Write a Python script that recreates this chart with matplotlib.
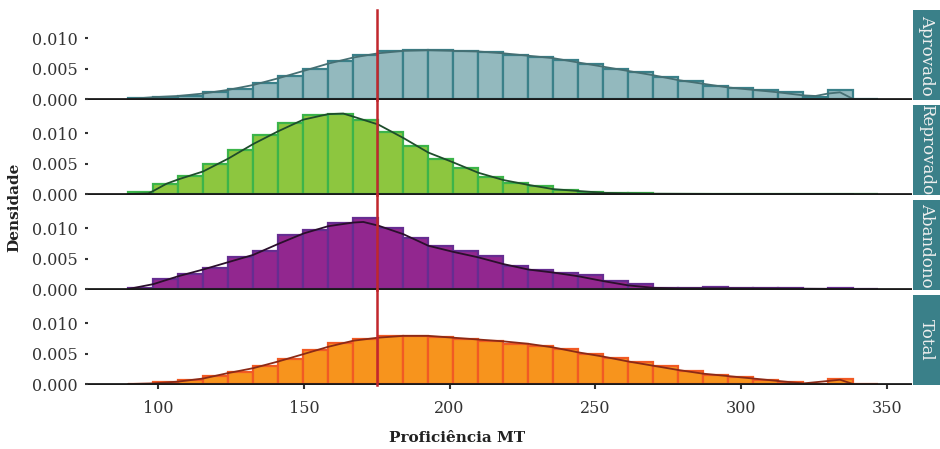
import numpy as np
import matplotlib
matplotlib.use("Agg")
import matplotlib.pyplot as plt

plt.rcParams["font.family"] = ["DejaVu Serif"]

# histogram bins (30 bins, same for every panel)
BIN_START = 89.7
BIN_WIDTH = 8.58
N_BINS = 30

GROUPS = ["Aprovado", "Reprovado", "Abandono", "Total"]

APROVADO_DENS = [0.0002, 0.0004, 0.0005, 0.0011, 0.0017, 0.0026, 0.0038, 0.0050, 0.0063, 0.0073,
                 0.0079, 0.0080, 0.0080, 0.0079, 0.0077, 0.0073, 0.0069, 0.0064, 0.0057, 0.0050,
                 0.0044, 0.0036, 0.0030, 0.0021, 0.0018, 0.0014, 0.0011, 0.0003, 0.0015, 0.0]
REPROVADO_DENS = [0.0004, 0.0016, 0.0029, 0.0050, 0.0072, 0.0097, 0.0117, 0.0129, 0.0132, 0.0121,
                  0.0101, 0.0079, 0.0058, 0.0042, 0.0028, 0.0018, 0.0013, 0.0006, 0.0003, 0.0002,
                  0.0001, 0.00005, 0.00004, 0.00003, 0.00003, 0.00002, 0.00002, 0.00001, 0.00001, 0.0]
ABANDONO_DENS = [0.0002, 0.0017, 0.0024, 0.0035, 0.0053, 0.0063, 0.0089, 0.0097, 0.0109, 0.0116,
                 0.0100, 0.0083, 0.0070, 0.0063, 0.0054, 0.0038, 0.0032, 0.0026, 0.0023, 0.0013,
                 0.0008, 0.0002, 0.0001, 0.0004, 0.0001, 0.0001, 0.0001, 0.0, 0.0002, 0.0]
TOTAL_DENS = [0.00005, 0.0004, 0.0007, 0.0013, 0.0020, 0.0030, 0.0041, 0.0055, 0.0067, 0.0074,
              0.0079, 0.0079, 0.0077, 0.0074, 0.0071, 0.0066, 0.0063, 0.0057, 0.0049, 0.0043,
              0.0036, 0.0030, 0.0022, 0.0015, 0.0012, 0.0007, 0.0004, 0.0000, 0.0009, 0.0]

# density curves
APROVADO_KX = [89.7, 98.3, 106.9, 115.4, 124.0, 132.6, 141.2, 149.8, 158.3, 166.9, 175.5, 184.1,
               192.7, 201.2, 209.8, 218.4, 227.0, 235.6, 244.1, 252.7, 261.3, 269.9, 278.5, 287.0,
               295.6, 304.2, 312.8, 321.4, 325.6, 329.9, 334.0, 338.5]
APROVADO_KY = [0.0000, 0.0003, 0.0005, 0.0009, 0.0015, 0.0023, 0.0034, 0.0046, 0.0058, 0.0068,
               0.0075, 0.0079, 0.0080, 0.0079, 0.0078, 0.0075, 0.0071, 0.0067, 0.0060, 0.0053,
               0.0046, 0.0039, 0.0031, 0.0025, 0.0019, 0.0015, 0.0011, 0.0006, 0.0005, 0.0009,
               0.0011, 0.0000]
REPROVADO_KX = [89.7, 96.6, 98.3, 102.9, 106.9, 115.4, 124.0, 132.6, 141.2, 149.8, 158.3, 163.5,
                166.9, 175.5, 184.1, 192.7, 201.2, 209.8, 218.4, 227.0, 235.6, 244.1, 252.7, 261.3,
                269.9, 290.0, 338.5]
REPROVADO_KY = [0.0000, 0.0001, 0.0005, 0.0017, 0.0024, 0.0037, 0.0058, 0.0082, 0.0103, 0.0122,
                0.0131, 0.0132, 0.0127, 0.0114, 0.0092, 0.0068, 0.0052, 0.0035, 0.0023, 0.0015,
                0.0008, 0.0005, 0.0002, 0.0001, 0.00005, 0.00002, 0.0]
ABANDONO_KX = [89.7, 98.3, 106.9, 115.4, 124.0, 132.6, 141.2, 149.8, 158.3, 166.9, 170.4, 175.5,
               184.1, 192.7, 201.2, 209.8, 218.4, 227.0, 235.6, 244.1, 252.7, 261.3, 269.9, 278.5,
               287.0, 295.6, 320.0, 338.5]
ABANDONO_KY = [0.0000, 0.0008, 0.0021, 0.0032, 0.0044, 0.0056, 0.0074, 0.0091, 0.0103, 0.0109,
               0.0110, 0.0104, 0.0090, 0.0071, 0.0061, 0.0052, 0.0041, 0.0032, 0.0027, 0.0021,
               0.0013, 0.0006, 0.0002, 0.0001, 0.0001, 0.0001, 0.00005, 0.0]
TOTAL_KX = [89.7, 98.3, 106.9, 115.4, 124.0, 132.6, 141.2, 149.8, 158.3, 166.9, 175.5, 184.1,
            192.7, 201.2, 209.8, 218.4, 227.0, 235.6, 244.1, 252.7, 261.3, 269.9, 278.5, 287.0,
            295.6, 304.2, 312.8, 321.4, 329.9, 334.0, 338.5]
TOTAL_KY = [0.0000, 0.0001, 0.0004, 0.0009, 0.0018, 0.0026, 0.0037, 0.0049, 0.0061, 0.0071,
            0.0076, 0.0079, 0.0079, 0.0076, 0.0073, 0.0070, 0.0066, 0.0060, 0.0052, 0.0045,
            0.0037, 0.0030, 0.0023, 0.0017, 0.0013, 0.0009, 0.0005, 0.0001, 0.0005, 0.0007,
            0.0000]

CUTOFF = 175
X_TICKS = [100, 150, 200, 250, 300, 350]
Y_TICKS = [0.000, 0.005, 0.010]

DENS = [APROVADO_DENS, REPROVADO_DENS, ABANDONO_DENS, TOTAL_DENS]
KDE = [(APROVADO_KX, APROVADO_KY), (REPROVADO_KX, REPROVADO_KY),
       (ABANDONO_KX, ABANDONO_KY), (TOTAL_KX, TOTAL_KY)]
FILLS = ["#93b9be", "#8dc63f", "#92278f", "#f7941d"]
EDGES = ["#3a8089", "#3cb44a", "#662d91", "#f15a24"]
LINES = ["#456f73", "#1e4d2b", "#2a0f2c", "#8b2a16"]
STRIP = "#3a8089"
INK = "#333333"

W, H = 940, 449
fig = plt.figure(figsize=(W / 100, H / 100), dpi=100)
fig.patch.set_facecolor("white")

left, right = 88, 912
edges = BIN_START + BIN_WIDTH * np.arange(N_BINS + 1)

for i, g in enumerate(GROUPS):
    top = 10 + 95 * i
    bot = top + 90
    ax = fig.add_axes([left / W, 1 - bot / H, (right - left) / W, 90 / H])
    ax.bar(edges[:-1], DENS[i], width=BIN_WIDTH, align="edge", color=FILLS[i],
           edgecolor=EDGES[i], linewidth=1.6, zorder=2)
    kx, ky = KDE[i]
    ax.plot(kx, ky, color=LINES[i], lw=1.3, zorder=3)
    ax.axhline(0, color="#1a1a1a", lw=2, zorder=4)
    ext = 1.0 if i == 0 else 1.06
    ax.axvline(CUTOFF, ymin=0, ymax=ext, color="#c1272d", lw=1.8, zorder=5, clip_on=False)
    ax.set_xlim(75.9, 358.7)
    ax.set_ylim(-0.00016, 0.0146)
    ax.set_yticks(Y_TICKS)
    ax.set_yticklabels([f"{v:.3f}" for v in Y_TICKS], fontsize=11.5, color=INK)
    ax.tick_params(axis="y", length=2.5, width=1.5, color=INK, pad=5)
    if i == 3:
        ax.set_xticks(X_TICKS)
        ax.set_xticklabels([str(v) for v in X_TICKS], fontsize=11.5, color=INK)
        ax.tick_params(axis="x", length=3, width=1.5, color=INK, pad=8)
    else:
        ax.set_xticks([])
    for sp in ax.spines.values():
        sp.set_visible(False)
    ax.set_facecolor("white")

    sax = fig.add_axes([913 / W, 1 - bot / H, (W - 913) / W, 90 / H])
    sax.set_facecolor(STRIP)
    sax.set_xticks([]); sax.set_yticks([])
    for sp in sax.spines.values():
        sp.set_visible(False)
    sax.text(0.5, 0.5, g, rotation=-90, ha="center", va="center", fontsize=12,
             color="#eeeeee", transform=sax.transAxes)

fig.text(14 / W, 1 - 207 / H, "Densidade", rotation=90, ha="center", va="center",
         fontsize=11, fontweight="bold", color="#222222")
fig.text(457 / W, 1 - 438 / H, "Proficiência MT", ha="center", va="center",
         fontsize=11, fontweight="bold", color="#222222")

fig.savefig("out.png", dpi=100)
